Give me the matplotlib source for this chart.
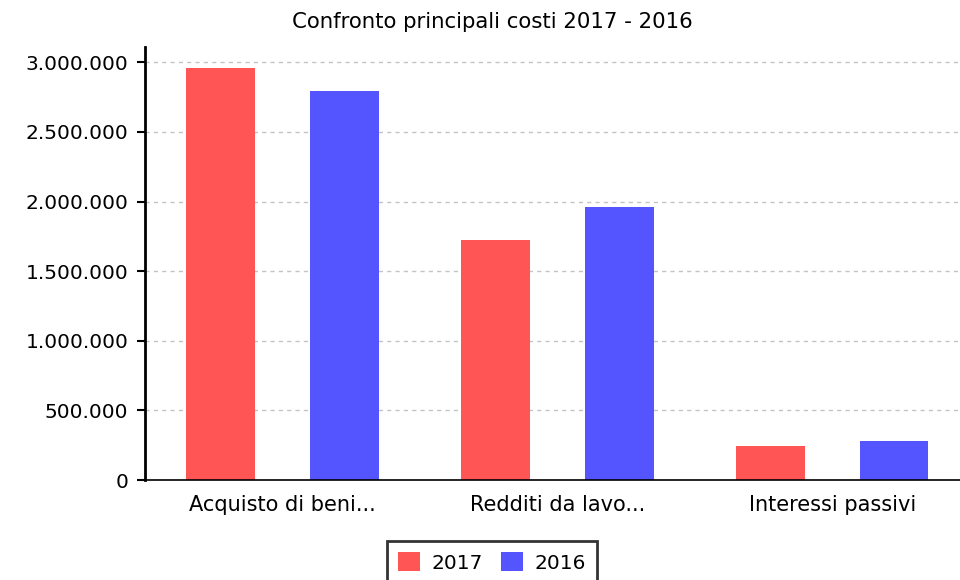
import matplotlib.pyplot as plt
import numpy as np
from matplotlib.ticker import FuncFormatter

categorie = ['Acquisto di beni...', 'Redditi da lavo...', 'Interessi passivi']
valori_2017 = [2957000, 1727000, 245000]
valori_2016 = [2791000, 1964000, 281000]
anni = ['2017', '2016']

fig = plt.figure(figsize=(9.6, 5.8), dpi=100)
ax = fig.add_axes([145 / 960, 100 / 580, 815 / 960, 433 / 580])

x = np.arange(len(categorie))
ax.bar(x - 0.225, valori_2017, width=0.25, color='#FF5555', label=anni[0], zorder=3)
ax.bar(x + 0.225, valori_2016, width=0.25, color='#5555FF', label=anni[1], zorder=3)

ax.set_xlim(-0.5, 2.465)
ax.set_ylim(0, 3110000)
ax.set_yticks(np.arange(0, 3000001, 500000))
ax.yaxis.set_major_formatter(FuncFormatter(lambda v, p: f'{int(v):,}'.replace(',', '.')))
ax.set_xticks(x)
ax.set_xticklabels(categorie)
ax.tick_params(axis='x', length=0, pad=11, labelsize=15)
ax.tick_params(axis='y', length=6, width=1.5, direction='out', labelsize=14.5, pad=6)

ax.grid(axis='y', color='#C4C4C4', linestyle=(0, (3, 3)), linewidth=1, zorder=0)
ax.spines['top'].set_visible(False)
ax.spines['right'].set_visible(False)
ax.spines['left'].set_linewidth(2)
ax.spines['bottom'].set_linewidth(1.2)
ax.spines['bottom'].set_zorder(4)

fig.text(492 / 960, 1 - 22 / 580, 'Confronto principali costi 2017 - 2016', ha='center', va='center', fontsize=15.3)

leg = ax.legend(loc='upper center', bbox_to_anchor=(492 / 960, 1 - 541 / 580), bbox_transform=fig.transFigure,
                ncol=2, frameon=True, fancybox=False, fontsize=14.5, handlelength=1.1, handleheight=1.1,
                columnspacing=0.9, handletextpad=0.55, borderpad=0.55, borderaxespad=0)
leg.get_frame().set_edgecolor('black')
leg.get_frame().set_linewidth(2)

fig.savefig('out.png', dpi=100)
